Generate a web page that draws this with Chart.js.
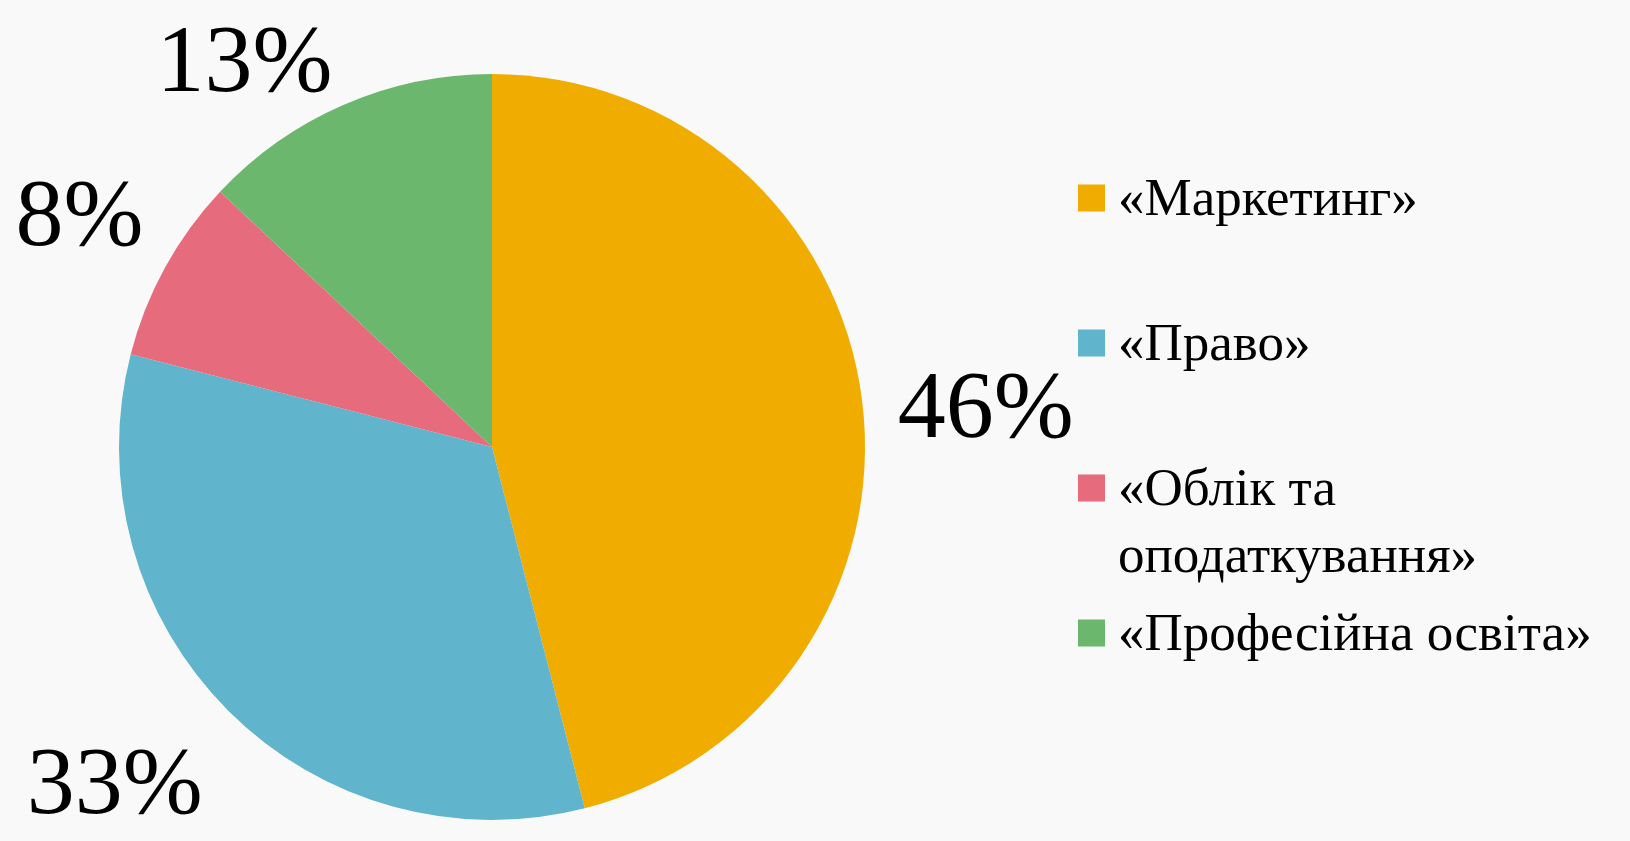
<!DOCTYPE html>
<html>
<head>
<meta charset="utf-8">
<script src="https://cdn.jsdelivr.net/npm/chart.js@4.4.1/dist/chart.umd.min.js"></script>
<style>
  html, body { margin: 0; padding: 0; background: #f9f9f9; }
  #wrap { width: 1630px; height: 841px; position: relative; }
</style>
</head>
<body>
<div id="wrap"><canvas id="pie"></canvas></div>
<script>
// Дані діаграми
const categories = ['«Маркетинг»', '«Право»', '«Облік та оподаткування»', '«Професійна освіта»'];
const shares = [46, 33, 8, 13];
const sliceColors = ['#f0ad00', '#60b5cc', '#e66c7d', '#6bb76d'];

// Зсуви підписів відсотків відносно точки на бісектрисі
const labelShiftX = [0, 0, 10, 3];
const labelShiftY = [16, 52, -30, -6];

const serif = '"Liberation Serif", "Times New Roman", serif';

// Підписи відсотків біля секторів
const percentLabels = {
  id: 'percentLabels',
  afterDatasetsDraw(chart) {
    const { ctx } = chart;
    const arcs = chart.getDatasetMeta(0).data;
    ctx.save();
    ctx.font = '96px ' + serif;
    ctx.fillStyle = '#000';
    ctx.textBaseline = 'middle';
    arcs.forEach((arc, i) => {
      const mid = (arc.startAngle + arc.endAngle) / 2;
      const r = arc.outerRadius + 36;
      const x = arc.x + Math.cos(mid) * r + labelShiftX[i];
      const y = arc.y + Math.sin(mid) * r + labelShiftY[i];
      ctx.textAlign = Math.cos(mid) >= 0 ? 'left' : 'right';
      ctx.fillText(shares[i] + '%', x, y);
    });
    ctx.restore();
  },
};

// Легенда праворуч з переносом довгих назв
const sideLegend = {
  id: 'sideLegend',
  afterDraw(chart) {
    const { ctx } = chart;
    const colors = chart.data.datasets[0].backgroundColor;
    const boxX = 1078, textX = 1118, box = 27, maxW = 495;
    ctx.save();
    ctx.font = '53px ' + serif;
    ctx.textAlign = 'left';
    ctx.textBaseline = 'alphabetic';
    chart.data.labels.forEach((label, i) => {
      const cy = 198 + i * 145;
      ctx.fillStyle = colors[i];
      ctx.fillRect(boxX, cy - box / 2, box, box);
      // перенос по словах
      const words = label.split(' ');
      const lines = [];
      let line = '';
      for (const w of words) {
        const test = line ? line + ' ' + w : w;
        if (ctx.measureText(test).width > maxW && line) {
          lines.push(line);
          line = w;
        } else {
          line = test;
        }
      }
      lines.push(line);
      ctx.fillStyle = '#000';
      lines.forEach((l, k) => ctx.fillText(l, textX, cy + 17 + k * 67));
    });
    ctx.restore();
  },
};

new Chart(document.getElementById('pie'), {
  type: 'pie',
  data: {
    labels: categories,
    datasets: [{
      data: shares,
      backgroundColor: sliceColors,
      borderWidth: 0,
    }],
  },
  options: {
    responsive: true,
    maintainAspectRatio: false,
    animation: false,
    layout: { padding: { left: 119, top: 74, right: 765, bottom: 21 } },
    plugins: {
      legend: { display: false },
      tooltip: { enabled: false },
    },
  },
  plugins: [percentLabels, sideLegend],
});
</script>
</body>
</html>
